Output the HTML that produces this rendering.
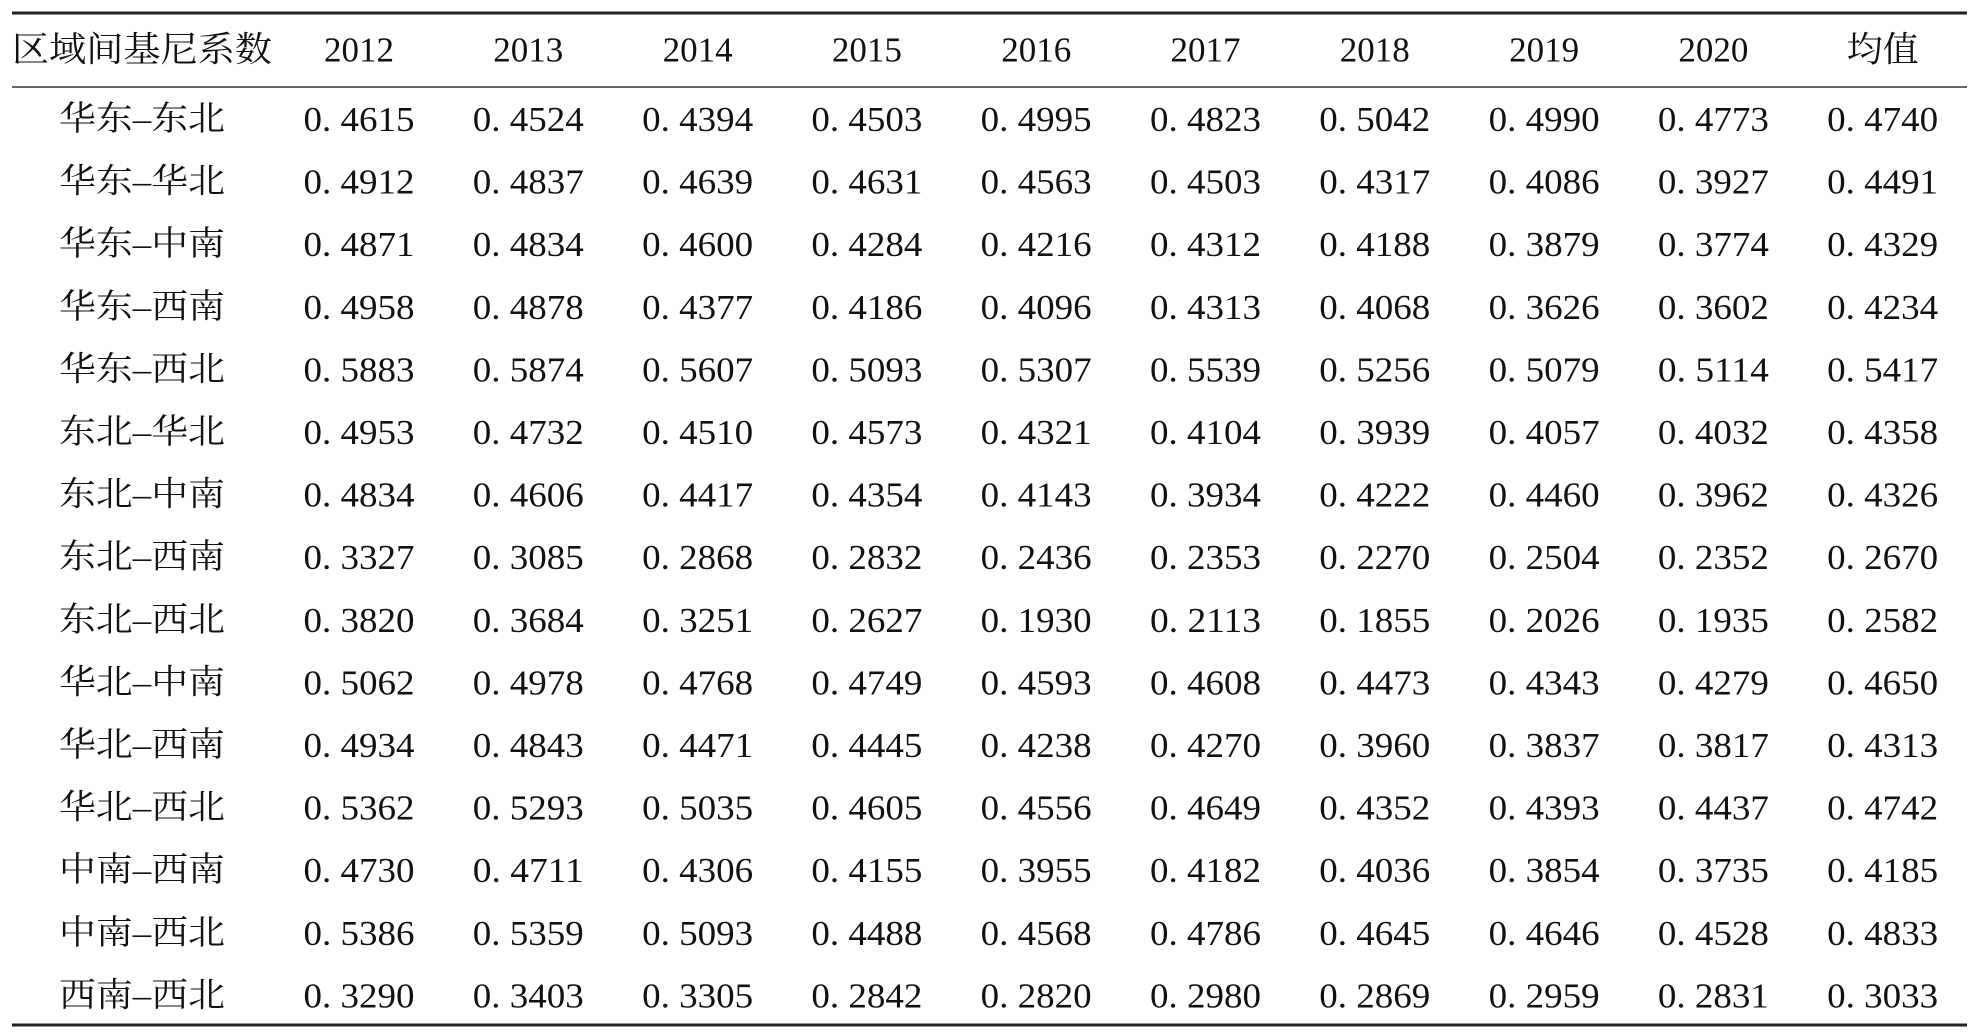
<!DOCTYPE html>
<html><head><meta charset="utf-8"><style>
html,body{margin:0;padding:0;background:#fff;}
svg{display:block;}
text{font-family:"Liberation Serif","Noto Serif CJK SC",serif;fill:#111;}
</style></head><body>
<svg id="t" width="1975" height="1033">
<line x1="12" y1="13" x2="1967" y2="13" stroke="#222" stroke-width="3"/>
<line x1="12" y1="87" x2="1967" y2="87" stroke="#333" stroke-width="1.6"/>
<line x1="12" y1="1025" x2="1967" y2="1025" stroke="#222" stroke-width="3"/>
</svg>
<script>
const headers=["区域间基尼系数","2012","2013","2014","2015","2016","2017","2018","2019","2020","均值"];
const regions=["华东–东北","华东–华北","华东–中南","华东–西南","华东–西北","东北–华北","东北–中南","东北–西南","东北–西北","华北–中南","华北–西南","华北–西北","中南–西南","中南–西北","西南–西北"];
const values=[
["0.4615","0.4524","0.4394","0.4503","0.4995","0.4823","0.5042","0.4990","0.4773","0.4740"],
["0.4912","0.4837","0.4639","0.4631","0.4563","0.4503","0.4317","0.4086","0.3927","0.4491"],
["0.4871","0.4834","0.4600","0.4284","0.4216","0.4312","0.4188","0.3879","0.3774","0.4329"],
["0.4958","0.4878","0.4377","0.4186","0.4096","0.4313","0.4068","0.3626","0.3602","0.4234"],
["0.5883","0.5874","0.5607","0.5093","0.5307","0.5539","0.5256","0.5079","0.5114","0.5417"],
["0.4953","0.4732","0.4510","0.4573","0.4321","0.4104","0.3939","0.4057","0.4032","0.4358"],
["0.4834","0.4606","0.4417","0.4354","0.4143","0.3934","0.4222","0.4460","0.3962","0.4326"],
["0.3327","0.3085","0.2868","0.2832","0.2436","0.2353","0.2270","0.2504","0.2352","0.2670"],
["0.3820","0.3684","0.3251","0.2627","0.1930","0.2113","0.1855","0.2026","0.1935","0.2582"],
["0.5062","0.4978","0.4768","0.4749","0.4593","0.4608","0.4473","0.4343","0.4279","0.4650"],
["0.4934","0.4843","0.4471","0.4445","0.4238","0.4270","0.3960","0.3837","0.3817","0.4313"],
["0.5362","0.5293","0.5035","0.4605","0.4556","0.4649","0.4352","0.4393","0.4437","0.4742"],
["0.4730","0.4711","0.4306","0.4155","0.3955","0.4182","0.4036","0.3854","0.3735","0.4185"],
["0.5386","0.5359","0.5093","0.4488","0.4568","0.4786","0.4645","0.4646","0.4528","0.4833"],
["0.3290","0.3403","0.3305","0.2842","0.2820","0.2980","0.2869","0.2959","0.2831","0.3033"]];
const svg=document.getElementById('t');
const NS="http://www.w3.org/2000/svg";
function colX(i){return i===0?142:359+(i-1)*169.3;}
function rowY(r){return 119.5+r*62.6;}
function txt(s,x,y,len,size){const e=document.createElementNS(NS,'text');e.setAttribute('x',x);e.setAttribute('y',y);e.setAttribute('text-anchor','middle');e.setAttribute('dominant-baseline','central');e.setAttribute('font-size',size);if(len){e.setAttribute('textLength',len);e.setAttribute('lengthAdjust','spacingAndGlyphs');}e.textContent=s;svg.appendChild(e);return e;}
headers.forEach((h,i)=>{
 const e=txt(h,colX(i),50,i===0?260:(i===10?72:70),35);
 
 
});
regions.forEach((r,ri)=>{
 const e=txt(r,colX(0),rowY(ri),166,34);
 
 
 values[ri].forEach((v,ci)=>{
  const c=txt(v.replace('.','. '),colX(ci+1),rowY(ri),111,35);
  
  
 });
});
</script>
</body></html>
